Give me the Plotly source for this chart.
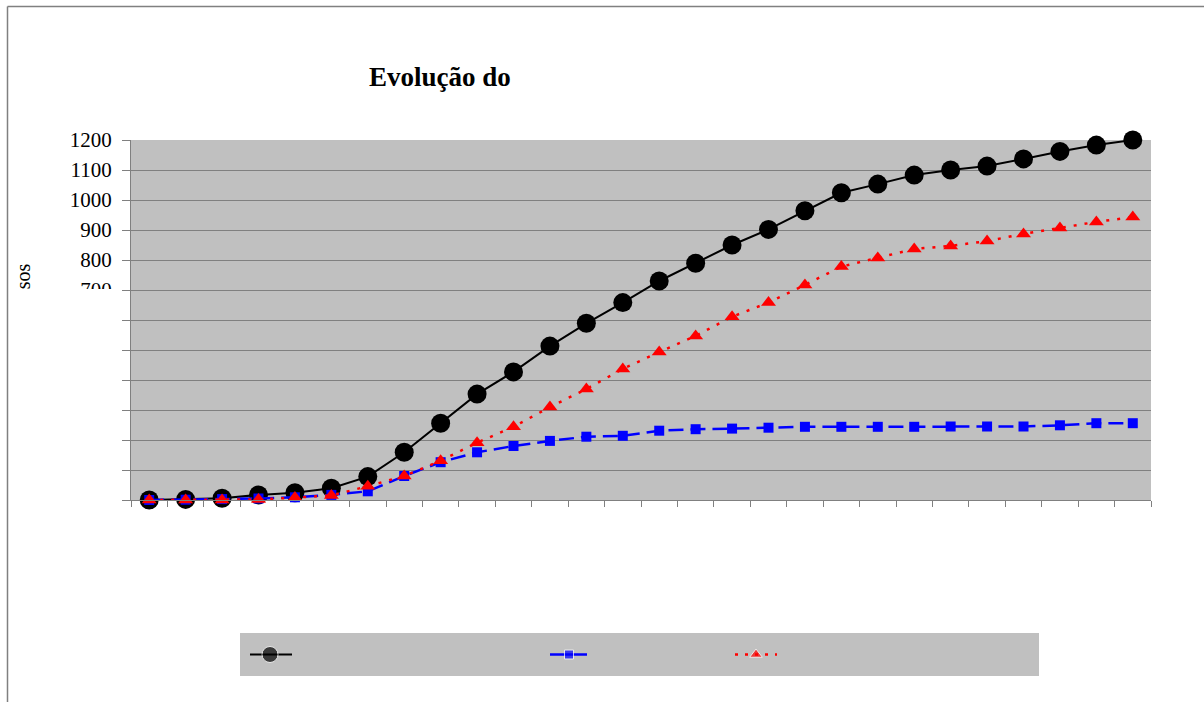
import plotly.graph_objects as go

# Sample index (28 readings) and the three cumulative series
indices = list(range(1, 29))
series_total = [0, 2, 6, 17, 24, 39, 78, 159, 256, 353, 427, 513, 589, 658,
                730, 789, 850, 902, 964, 1024, 1053, 1083, 1100, 1113, 1137,
                1162, 1183, 1200]
series_blue = [0, 1, 3, 5, 9, 17, 29, 80, 126, 159, 180, 197, 211, 214,
               231, 236, 238, 241, 244, 244, 244, 244, 245, 245, 245, 249,
               256, 256]
series_red = [0, 0, 0, 2, 8, 15, 46, 80, 131, 191, 244, 310, 370, 437,
              493, 547, 611, 658, 717, 778, 807, 837, 847, 863, 887, 907,
              927, 943]

y_tick_values = list(range(0, 1300, 100))
y_tick_text = ["", "", "", "", "", "", "", "700", "800", "900", "1000",
               "1100", "1200"]

W, H = 1204, 702
GRID = "#808080"
BG = "#c0c0c0"
SERIF = "Liberation Serif, Times New Roman, serif"


def px_x(p):
    return p / W


def px_y(p):
    return (H - p) / H


fig = go.Figure()

fig.add_trace(go.Scatter(
    x=indices, y=series_total, mode="lines+markers",
    line=dict(color="black", width=2),
    marker=dict(symbol="circle", size=19, color="black"),
    cliponaxis=False, showlegend=False))

fig.add_trace(go.Scatter(
    x=indices, y=series_blue, mode="lines+markers",
    line=dict(color="#0000ff", width=2.5, dash="15px,7px"),
    marker=dict(symbol="square", size=10, color="#0000ff"),
    cliponaxis=False, showlegend=False))

fig.add_trace(go.Scatter(
    x=indices, y=series_red, mode="lines+markers",
    line=dict(color="#ff0000", width=2.5, dash="3px,8px"),
    marker=dict(symbol="triangle-up", size=13, color="#ff0000"),
    cliponaxis=False, showlegend=False))

# Key samples drawn on a small hidden subplot
key_styles = [
    (dict(color="black", width=2), dict(symbol="circle", size=16, color="black"), 250, 270, 292),
    (dict(color="#0000ff", width=2.5), dict(symbol="square", size=9, color="#0000ff"), 550, 569, 587),
    (dict(color="#ff0000", width=2.5, dash="3px,7px"), dict(symbol="triangle-up", size=11, color="#ff0000"), 735, 756, 777),
]
for line, marker, a, m, b in key_styles:
    fig.add_trace(go.Scatter(
        x=[a, m, b], y=[0.5, 0.5, 0.5], mode="lines+markers",
        line=line, marker=dict(marker, size=[0, marker["size"], 0]),
        xaxis="x2", yaxis="y2", showlegend=False, hoverinfo="skip"))

fig.update_layout(
    width=W, height=H,
    autosize=False,
    margin=dict(l=0, r=0, t=0, b=0, pad=0, autoexpand=False),
    paper_bgcolor="white",
    plot_bgcolor=BG,
    showlegend=False,
    xaxis=dict(
        domain=[px_x(131), px_x(1151)],
        range=[0.5, 28.5],
        automargin=False,
        tickmode="array",
        tickvals=[i + 0.5 for i in range(0, 29)],
        showticklabels=False,
        ticks="outside", ticklen=6, tickcolor=GRID, tickwidth=1,
        showgrid=False, zeroline=False,
        showline=True, linecolor=GRID, linewidth=1,
    ),
    yaxis=dict(
        domain=[px_y(500), px_y(140)],
        range=[0, 1200],
        automargin=False,
        tickmode="array",
        tickvals=y_tick_values,
        ticktext=y_tick_text,
        ticks="outside", ticklen=8, tickcolor=GRID, tickwidth=1,
        ticklabelstandoff=6,
        tickfont=dict(family=SERIF, size=21, color="black"),
        showgrid=True, gridcolor=GRID, gridwidth=1,
        zeroline=False,
        showline=True, linecolor=GRID, linewidth=1,
    ),
    xaxis2=dict(domain=[px_x(240), px_x(1039)], range=[240, 1039],
                anchor="y2", visible=False, fixedrange=True, automargin=False),
    yaxis2=dict(domain=[px_y(676), px_y(633)], range=[0, 1],
                anchor="x2", visible=False, fixedrange=True, automargin=False),
    annotations=[
        dict(text="<b>Evolução do</b>", xref="paper", yref="paper",
             x=px_x(440), y=px_y(77), xanchor="center", yanchor="middle",
             showarrow=False,
             font=dict(family=SERIF, size=27, color="black")),
        dict(text="Nº de casos", xref="paper", yref="paper",
             x=px_x(22), y=px_y(262), xanchor="center", yanchor="top",
             textangle=-90, showarrow=False,
             font=dict(family=SERIF, size=20, color="black")),
        # blank white panel masking the lower part of the label column
        dict(text=" ", xref="paper", yref="paper",
             x=px_x(9), y=px_y(289), xanchor="left", yanchor="top",
             width=112, height=413, bgcolor="white",
             borderpad=0, borderwidth=0, showarrow=False),
    ],
    shapes=[
        dict(type="line", xref="paper", yref="paper",
             x0=px_x(7.5), x1=px_x(7.5), y0=0, y1=px_y(6.5),
             line=dict(color=GRID, width=1.5), layer="above"),
        dict(type="line", xref="paper", yref="paper",
             x0=px_x(7.5), x1=1, y0=px_y(6.5), y1=px_y(6.5),
             line=dict(color=GRID, width=1.5), layer="above"),
    ],
)

fig.write_html("out.html")
